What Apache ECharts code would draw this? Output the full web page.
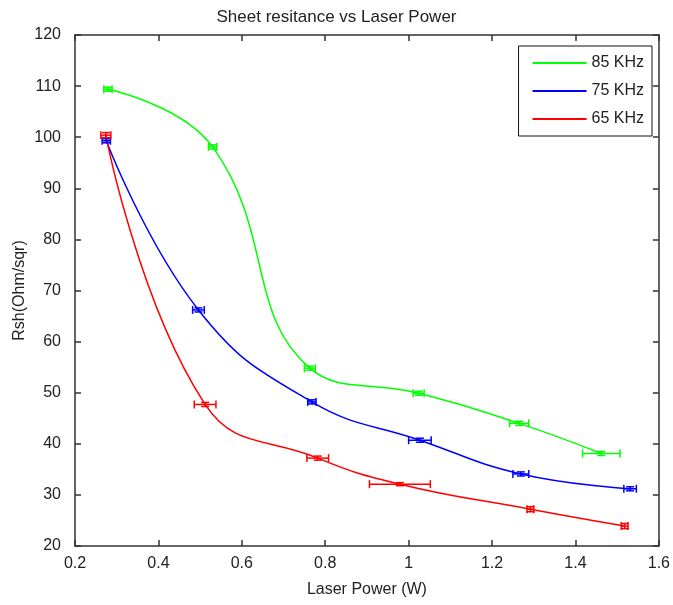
<!DOCTYPE html>
<html>
<head>
    <meta charset="UTF-8">
    <title>index.html</title>
    <script src="https://cdn.jsdelivr.net/npm/echarts@6.0.0/dist/echarts.min.js"></script>
    <style>
        body { margin: 0; background: #fff; }
        #chart { width: 673px; height: 605px; }
    </style>
</head>
<body>
<div id="chart"></div>
<script>
    // values
    var seriesNames = ['85 KHz', '75 KHz', '65 KHz'];
    var colors = ['#00ff00', '#0000ff', '#ff0000'];

    var power85 = [0.279, 0.530, 0.763, 1.024, 1.265, 1.462];
    var rsh85 = [109.4, 98.1, 54.8, 49.9, 44.0, 38.1];
    var powerErr85 = [0.010, 0.010, 0.013, 0.013, 0.023, 0.045];
    var rshErr85 = [0.4, 0.4, 0.4, 0.4, 0.4, 0.4];

    var power75 = [0.275, 0.496, 0.768, 1.027, 1.269, 1.531];
    var rsh75 = [99.3, 66.2, 48.2, 40.7, 34.1, 31.2];
    var powerErr75 = [0.010, 0.014, 0.010, 0.027, 0.019, 0.015];
    var rshErr75 = [0.4, 0.4, 0.4, 0.4, 0.4, 0.4];

    var power65 = [0.274, 0.512, 0.782, 0.979, 1.292, 1.518];
    var rsh65 = [100.4, 47.7, 37.2, 32.1, 27.2, 23.9];
    var powerErr65 = [0.012, 0.026, 0.026, 0.073, 0.008, 0.008];
    var rshErr65 = [0.5, 0.4, 0.4, 0.3, 0.5, 0.5];

    var groups = [
        [power85, rsh85, powerErr85, rshErr85],
        [power75, rsh75, powerErr75, rshErr75],
        [power65, rsh65, powerErr65, rshErr65]
    ];

    function errBars(color) {
        return function (params, api) {
            var x = api.value(0), y = api.value(1), dx = api.value(2), dy = api.value(3);
            var l = api.coord([x - dx, y]), r = api.coord([x + dx, y]);
            var t = api.coord([x, y + dy]), b = api.coord([x, y - dy]);
            var cap = 4;
            var st = {stroke: color, lineWidth: 1.5};
            return {
                type: 'group',
                children: [
                    {type: 'line', shape: {x1: l[0], y1: l[1], x2: r[0], y2: r[1]}, style: st},
                    {type: 'line', shape: {x1: l[0], y1: l[1] - cap, x2: l[0], y2: l[1] + cap}, style: st},
                    {type: 'line', shape: {x1: r[0], y1: r[1] - cap, x2: r[0], y2: r[1] + cap}, style: st},
                    {type: 'line', shape: {x1: t[0], y1: t[1], x2: b[0], y2: b[1]}, style: st},
                    {type: 'line', shape: {x1: t[0] - cap, y1: t[1], x2: t[0] + cap, y2: t[1]}, style: st},
                    {type: 'line', shape: {x1: b[0] - cap, y1: b[1], x2: b[0] + cap, y2: b[1]}, style: st}
                ]
            };
        };
    }

    var series = [];
    groups.forEach(function (g, i) {
        var pts = g[0].map(function (x, k) { return [x, g[1][k]]; });
        var errs = g[0].map(function (x, k) { return [x, g[1][k], g[2][k], g[3][k]]; });
        series.push({
            name: seriesNames[i],
            type: 'line',
            data: pts,
            smooth: 0.45,
            symbol: 'none',
            lineStyle: {color: colors[i], width: 1.5},
            itemStyle: {color: colors[i]},
            z: 3
        });
        series.push({
            name: seriesNames[i],
            type: 'custom',
            data: errs,
            renderItem: errBars(colors[i]),
            z: 4
        });
    });

    var axisCommon = {
        axisLine: {show: true, onZero: false, lineStyle: {color: '#333', width: 1.5}},
        axisTick: {show: true, inside: true, length: 6, lineStyle: {color: '#333', width: 1.5}},
        splitLine: {show: false}
    };

    var chart = echarts.init(document.getElementById('chart'));
    chart.setOption({
        backgroundColor: '#fff',
        textStyle: {fontFamily: 'Liberation Sans, DejaVu Sans, sans-serif'},
        title: {
            text: 'Sheet resitance vs Laser Power',
            left: 'center', top: 4,
            textStyle: {fontSize: 17, fontWeight: 'normal', color: '#222'}
        },
        legend: {
            data: seriesNames,
            right: 21, top: 46,
            orient: 'vertical',
            backgroundColor: '#fff',
            borderColor: '#111', borderWidth: 1,
            padding: [9, 8, 9, 14],
            itemWidth: 54, itemHeight: 2,
            itemGap: 12,
            icon: 'rect',
            textStyle: {fontSize: 16, color: '#222'}
        },
        grid: {left: 75, right: 11, top: 35, bottom: 59},
        xAxis: [
            Object.assign({}, axisCommon, {
                type: 'value', min: 0.2, max: 1.6, interval: 0.2, position: 'bottom',
                name: 'Laser Power (W)', nameLocation: 'middle', nameGap: 36,
                nameTextStyle: {fontSize: 16, color: '#222'},
                axisLabel: {fontSize: 16, color: '#222', margin: 10}
            }),
            Object.assign({}, axisCommon, {
                type: 'value', min: 0.2, max: 1.6, interval: 0.2, position: 'top',
                axisLabel: {show: false}
            })
        ],
        yAxis: [
            Object.assign({}, axisCommon, {
                type: 'value', min: 20, max: 120, interval: 10, position: 'left',
                name: 'Rsh(Ohm/sqr)', nameLocation: 'middle', nameGap: 47,
                nameMoveOverlap: false,
                nameTextStyle: {fontSize: 16, color: '#222'},
                axisLabel: {fontSize: 16, color: '#222', margin: 14}
            }),
            Object.assign({}, axisCommon, {
                type: 'value', min: 20, max: 120, interval: 10, position: 'right',
                axisLabel: {show: false}
            })
        ],
        series: series
    });
</script>
</body>
</html>
